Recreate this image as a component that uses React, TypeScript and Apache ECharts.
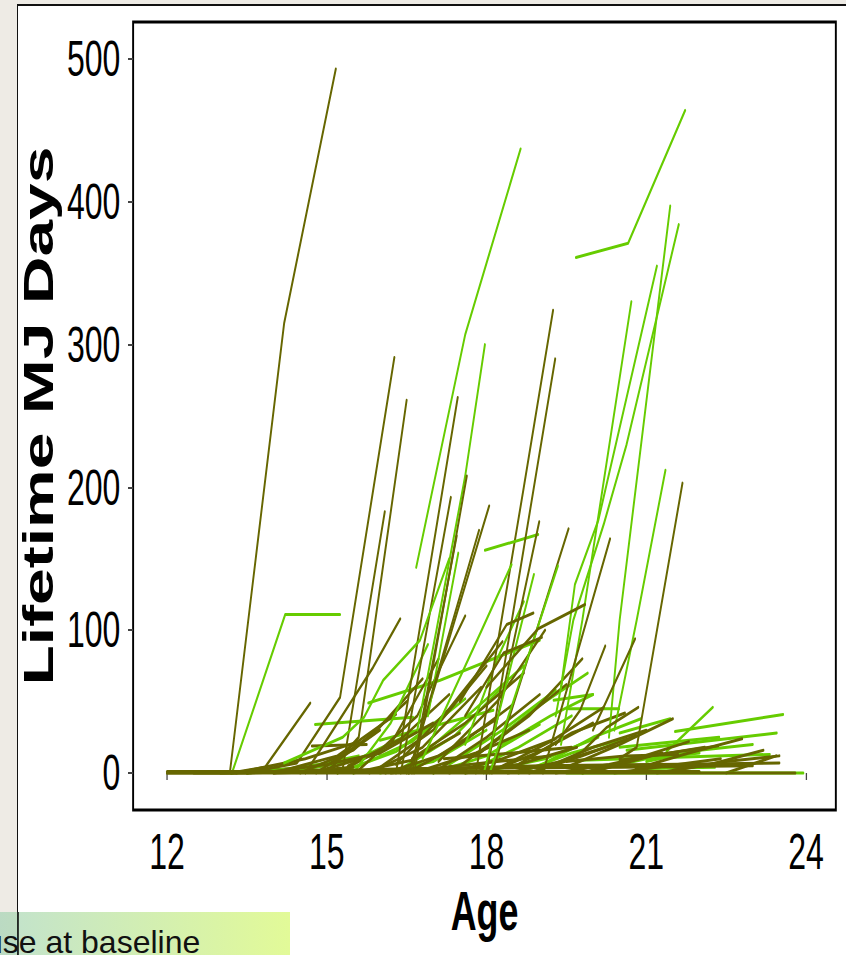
import React, { useEffect, useRef } from "react";
import * as echarts from "echarts";

// ---- tick labels ----
const ageTicks = [12, 15, 18, 21, 24];
const mjTicks = [0, 100, 200, 300, 400, 500];

// ---- trajectories: [age, lifetime MJ days] ----
const oliveHigh: number[][][] = [
  [[12.0, 0], [13.18, 0], [14.2, 315], [15.17, 493]],
  [[13.2, 0], [13.84, 4], [14.69, 49]],
  [[13.5, 0], [14.44, 7], [15.25, 53], [16.27, 291]],
  [[15.0, 0], [15.6, 25], [16.5, 261]],
  [[15.3, 3], [16.09, 183]],
  [[16.3, 0], [17.46, 263]],
  [[16.39, 0], [17.33, 193]],
  [[16.64, 0], [17.63, 208]],
  [[16.54, 0], [18.05, 187]],
  [[17.8, 0], [18.7, 200], [19.25, 324]],
  [[18.0, 0], [19.29, 290]],
  [[18.0, 2], [18.99, 176]],
  [[18.1, 0], [19.54, 171]],
  [[16.54, 0], [17.86, 170]],
  [[16.6, 0], [17.44, 166]],
  [[19.06, 0], [20.32, 164]],
  [[20.5, 10], [20.82, 18], [21.68, 203]],
  [[14.6, 0], [15.87, 74], [16.38, 108]],
  [[18.0, 60], [18.97, 101], [19.85, 118]],
  [[17.5, 50], [18.38, 104], [18.88, 112]],
  [[17.6, 40], [18.32, 84], [19.04, 95]],
  [[19.3, 20], [19.76, 44], [20.23, 89]],
  [[20.0, 30], [20.26, 51], [20.79, 94]],
  [[19.8, 15], [20.26, 32], [20.85, 46]],
];

const greenHigh: number[][][] = [
  [[13.22, 0], [14.22, 111], [15.25, 111]],
  [[16.68, 144], [17.6, 307], [18.64, 437]],
  [[16.7, 30], [17.06, 100], [17.6, 208], [17.97, 300]],
  [[19.68, 361], [20.66, 371], [21.73, 464]],
  [[20.3, 25], [20.5, 107], [21.45, 397]],
  [[19.3, 40], [19.63, 107], [20.2, 174], [20.63, 230], [21.61, 384]],
  [[19.4, 60], [19.66, 132], [20.1, 177], [21.2, 355]],
  [[19.4, 20], [19.8, 107], [20.72, 330]],
  [[20.4, 30], [20.82, 107], [21.36, 212]],
  [[17.97, 156], [18.97, 167]],
  [[16.8, 10], [17.91, 100], [18.47, 146]],
  [[16.9, 40], [17.47, 154]],
  [[17.95, 0], [18.89, 139]],
  [[18.06, 0], [19.34, 145]],
  [[14.2, 7], [15.3, 25], [15.7, 39], [16.06, 65], [16.75, 93], [17.3, 150]],
];

const oliveLow: number[][][] = [
  [[13.2, 0], [14.3, 3], [15.3, 8]],
  [[13.3, 0], [14.6, 10], [15.6, 22]],
  [[13.5, 0], [14.9, 5], [15.8, 12]],
  [[14.0, 0], [15.1, 6], [16.0, 30]],
  [[14.2, 2], [15.2, 12], [16.3, 41]],
  [[14.5, 0], [15.5, 16], [16.5, 50]],
  [[14.8, 0], [15.9, 28], [16.8, 66]],
  [[15.0, 3], [16.0, 14], [17.0, 35]],
  [[15.2, 0], [16.2, 20], [17.1, 80]],
  [[15.4, 5], [16.4, 24], [17.3, 55]],
  [[15.5, 0], [16.6, 9], [17.5, 28]],
  [[15.6, 2], [16.7, 40], [17.6, 110]],
  [[15.8, 0], [16.8, 18], [17.9, 60]],
  [[16.0, 4], [17.0, 30], [18.0, 75]],
  [[16.1, 0], [17.1, 12], [18.2, 38]],
  [[16.3, 6], [17.3, 45], [18.3, 92]],
  [[16.5, 0], [17.5, 20], [18.5, 48]],
  [[16.6, 10], [17.6, 35], [18.7, 70]],
  [[16.8, 2], [17.8, 14], [18.8, 30]],
  [[17.0, 0], [18.0, 25], [19.0, 55]],
  [[17.1, 8], [18.2, 50], [19.1, 100]],
  [[17.3, 0], [18.3, 10], [19.3, 24]],
  [[17.5, 5], [18.5, 32], [19.5, 62]],
  [[17.6, 0], [18.6, 6], [19.7, 18]],
  [[17.8, 12], [18.8, 40], [19.8, 80]],
  [[18.0, 0], [19.0, 15], [20.0, 35]],
  [[18.2, 3], [19.2, 22], [20.2, 46]],
  [[18.4, 0], [19.4, 8], [20.4, 20]],
  [[18.6, 6], [19.6, 28], [20.6, 42]],
  [[18.8, 0], [19.8, 12], [20.8, 26]],
  [[19.0, 2], [20.0, 18], [21.0, 30]],
  [[19.3, 0], [20.3, 6], [21.3, 14]],
  [[19.5, 4], [20.5, 20], [21.5, 38]],
  [[19.8, 0], [20.8, 10], [21.8, 22]],
  [[20.1, 2], [21.1, 12], [22.1, 18]],
  [[20.4, 0], [21.4, 5], [22.4, 10]],
  [[20.8, 3], [21.8, 14], [22.8, 24]],
  [[21.2, 0], [22.2, 6], [23.2, 16]],
  [[21.5, 2], [22.5, 8], [23.5, 12]],
  [[12.5, 0], [13.5, 0], [14.5, 1], [15.5, 4]],
  [[13.0, 0], [14.0, 1], [15.0, 6], [16.0, 14]],
  [[16.2, 0], [17.2, 4], [18.2, 8], [19.2, 12]],
  [[14.72, 19], [15.75, 20]],
  [[17.2, 10], [18.5, 14], [19.6, 18]],
  [[19.5, 8], [20.6, 12], [21.6, 13]],
  [[20.5, 9], [22.35, 19]],
  [[22.5, 0], [23.44, 12]],
  [[13.2, 0], [16.5, 3], [20.5, 4], [23.0, 5]],
  [[14.0, 0], [18.0, 4], [22.0, 6]],
  [[15.0, 1], [19.0, 5], [23.5, 7]],
];

const greenLow: number[][][] = [
  [[14.78, 34], [16.62, 39]],
  [[15.78, 49], [17.13, 65], [19.0, 93]],
  [[16.0, 23], [18.13, 44]],
  [[13.5, 0], [14.6, 4], [15.6, 12]],
  [[14.5, 2], [15.6, 10], [16.6, 28]],
  [[15.2, 0], [16.3, 15], [17.2, 40]],
  [[15.6, 5], [16.6, 22], [17.6, 52]],
  [[16.0, 0], [17.0, 8], [18.0, 30]],
  [[16.4, 3], [17.4, 26], [18.4, 64]],
  [[16.7, 10], [17.7, 42], [18.7, 75]],
  [[17.0, 0], [18.0, 12], [19.0, 34]],
  [[17.3, 6], [18.3, 30], [19.3, 58]],
  [[17.6, 0], [18.6, 18], [19.6, 40]],
  [[17.9, 15], [18.9, 45], [19.9, 70]],
  [[18.1, 2], [19.1, 10], [20.1, 25]],
  [[18.3, 20], [19.2, 40], [20.0, 55]],
  [[18.6, 0], [19.6, 14], [20.6, 24]],
  [[19.0, 5], [20.0, 25], [20.9, 38]],
  [[19.54, 45], [20.49, 45]],
  [[19.26, 51], [20.0, 55]],
  [[19.76, 9], [23.32, 13]],
  [[20.5, 18], [22.37, 25]],
  [[20.63, 16], [23.45, 28]],
  [[21.54, 29], [23.57, 41]],
  [[21.38, 15], [22.25, 46]],
  [[20.5, 28], [21.45, 38]],
  [[20.82, 3], [22.29, 4]],
  [[19.8, 0], [21.0, 10], [22.0, 14]],
  [[21.0, 8], [22.0, 16], [23.0, 20]],
  [[15.5, 0], [16.2, 35], [16.9, 90]],
  [[17.6, 20], [18.2, 80], [18.7, 120]],
];

const baselines: number[][][] = [
  [[19.5, 0], [21.5, 0], [23.95, 0]],
  [[12.0, 0], [15.0, 0], [18.0, 0], [21.0, 0], [23.8, 0]],
  [[12.0, 1], [13.2, 1], [16.0, 1], [19.0, 1], [22.0, 1]],
];
const baselineGroups = ["green", "olive", "olive"];

const OLIVE = "#666600";
const GREEN = "#66CC00";
const SQUEEZE = 0.64;
const CHART_W = Math.round(846 / SQUEEZE);
const FONT = "'Liberation Sans', Arial, Helvetica, sans-serif";

function lineSeries(data: number[][], color: string, id: string) {
  return {
    type: "line",
    id,
    data,
    showSymbol: false,
    symbol: "none",
    silent: true,
    clip: true,
    lineStyle: { color, width: 3, cap: "round", join: "round" },
  };
}

export default function App() {
  const ref = useRef<HTMLDivElement>(null);

  useEffect(() => {
    if (!ref.current) return;
    const chart = echarts.init(ref.current, null, { renderer: "svg" });
    const series: any[] = [];
    const n = Math.max(oliveLow.length, greenLow.length);
    for (let i = 0; i < n; i++) {
      if (greenLow[i]) series.push(lineSeries(greenLow[i], GREEN, "gl" + i));
      if (oliveLow[i]) series.push(lineSeries(oliveLow[i], OLIVE, "ol" + i));
    }
    const m = Math.max(oliveHigh.length, greenHigh.length);
    for (let i = 0; i < m; i++) {
      if (oliveHigh[i]) series.push(lineSeries(oliveHigh[i], OLIVE, "oh" + i));
      if (greenHigh[i]) series.push(lineSeries(greenHigh[i], GREEN, "gh" + i));
    }
    baselines.forEach((b, i) =>
      series.push(lineSeries(b, baselineGroups[i] === "green" ? GREEN : OLIVE, "b" + i))
    );

    chart.setOption({
      animation: false,
      backgroundColor: "transparent",
      grid: {
        left: 208,
        right: CHART_W - 1306,
        top: 22,
        bottom: 955 - 810,
        show: true,
        borderColor: "#000",
        borderWidth: 3,
        backgroundColor: "transparent",
      },
      xAxis: {
        type: "value",
        min: 11.364,
        max: 24.56,
        axisLine: { show: false },
        splitLine: { show: false },
        axisTick: {
          show: true,
          length: 7,
          customValues: ageTicks,
          lineStyle: { color: "#444", width: 2 },
        },
        axisLabel: {
          customValues: ageTicks,
          fontFamily: FONT,
          fontSize: 50,
          color: "#000",
          margin: 17,
        },
        name: "Age",
        nameLocation: "middle",
        nameGap: 68,
        nameTextStyle: {
          fontFamily: FONT,
          fontWeight: "bold",
          fontSize: 56,
          color: "#000",
        },
      },
      yAxis: {
        type: "value",
        min: -25.9,
        max: 525.9,
        axisLine: { show: false },
        splitLine: { show: false },
        axisTick: {
          show: true,
          length: 8,
          customValues: mjTicks,
          lineStyle: { color: "#444", width: 2 },
        },
        axisLabel: {
          customValues: mjTicks,
          fontFamily: FONT,
          fontSize: 50,
          color: "#000",
          margin: 20,
        },
        name: "Lifetime MJ Days",
        nameLocation: "middle",
        nameRotate: 90,
        nameGap: 105,
        nameTextStyle: {
          fontFamily: FONT,
          fontWeight: "bold",
          fontSize: 66,
          color: "#000",
        },
      },
      series,
    });
    return () => chart.dispose();
  }, []);

  return (
    <div
      style={{
        position: "absolute",
        left: 0,
        top: 0,
        width: 846,
        height: 955,
        overflow: "hidden",
        background: "#EEEBE5",
      }}
    >
      <div
        style={{
          position: "absolute",
          left: 17,
          top: 4,
          width: 846,
          height: 1000,
          background: "#FFFFFF",
          borderLeft: "1.5px solid #111",
          borderTop: "2px solid #111",
        }}
      />
      <div
        ref={ref}
        style={{
          position: "absolute",
          left: 0,
          top: 0,
          width: CHART_W,
          height: 955,
          transform: `scaleX(${SQUEEZE})`,
          transformOrigin: "0 0",
        }}
      />
      <div
        style={{
          position: "absolute",
          left: 0,
          top: 912,
          width: 290,
          height: 50,
          background:
            "linear-gradient(to right, rgba(153,207,172,0.6), rgba(207,247,83,0.6))",
          overflow: "hidden",
        }}
      >
        <span
          style={{
            position: "absolute",
            left: -15,
            top: 14,
            fontFamily: FONT,
            fontSize: 32,
            lineHeight: "32px",
            color: "#111",
            whiteSpace: "nowrap",
          }}
        >
          use at baseline
        </span>
      </div>
      <div
        style={{
          position: "absolute",
          left: 17,
          top: 912,
          width: 1.5,
          height: 50,
          background: "rgba(17,17,17,0.8)",
        }}
      />
    </div>
  );
}
